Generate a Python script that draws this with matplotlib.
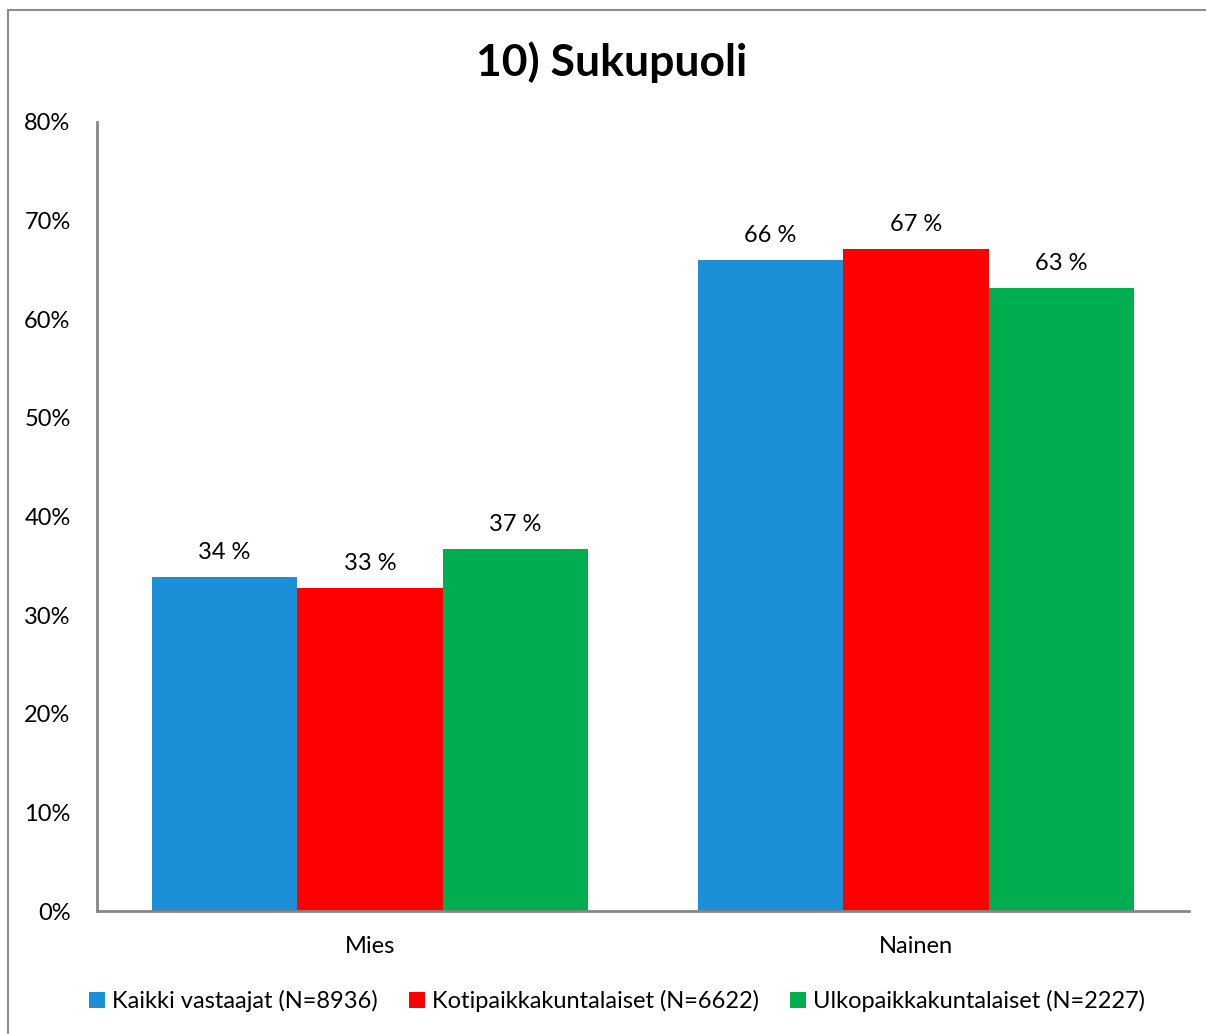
import numpy as np
import matplotlib.pyplot as plt
from matplotlib.patches import Rectangle

plt.rcParams['font.family'] = ['Lato', 'DejaVu Sans']

# Data
categories = ['Mies', 'Nainen']
series_names = ['Kaikki vastaajat (N=8936)', 'Kotipaikkakuntalaiset (N=6622)', 'Ulkopaikkakuntalaiset (N=2227)']
kaikki = [33.9, 66.0]
koti = [32.8, 67.1]
ulko = [36.7, 63.2]
labels = [['34 %', '66 %'], ['33 %', '67 %'], ['37 %', '63 %']]
colors = ['#1C8FD9', '#FF0000', '#00AE50']

fig = plt.figure(figsize=(12.06, 10.34), dpi=100)
ax = fig.add_axes([97 / 1206, 1 - 911 / 1034, 1092 / 1206, 789 / 1034])

# Outer chart frame (right/bottom edges fall outside the image)
fig.patches.append(Rectangle((8 / 1206, -0.01), 1.0, 1 - 10 / 1034 + 0.01,
                             transform=fig.transFigure, fill=False,
                             edgecolor='#8C8C8C', linewidth=1.5))

x = np.arange(len(categories))
w = 0.8 / 3
for i, (vals, name) in enumerate(zip([kaikki, koti, ulko], series_names)):
    pos = x + (i - 1) * w
    ax.bar(pos, vals, width=w, color=colors[i], label=name)
    for p, v, t in zip(pos, vals, labels[i]):
        ax.text(p, v + 1.4, t, ha='center', va='bottom', fontsize=17)

ax.set_xlim(-0.5, 1.5)
ax.set_ylim(0, 80)
ax.set_yticks(range(0, 81, 10))
ax.set_yticklabels([f'{t}%' for t in range(0, 81, 10)], fontsize=17)
ax.set_xticks(x)
ax.set_xticklabels(categories, fontsize=17)
ax.tick_params(axis='both', length=0)
ax.tick_params(axis='y', pad=19)
ax.tick_params(axis='x', pad=18)

for s in ['top', 'right']:
    ax.spines[s].set_visible(False)
for s in ['left', 'bottom']:
    ax.spines[s].set_color('#868686')
    ax.spines[s].set_linewidth(2)

fig.text(612 / 1206, 1 - 62 / 1034, '10) Sukupuoli', ha='center', va='center',
         fontsize=32, fontweight='bold')

fig.legend(loc='center', bbox_to_anchor=(617 / 1206, 1 - 1001 / 1034), ncol=3,
           frameon=False, fontsize=17, handlelength=0.7, handleheight=0.7,
           handletextpad=0.3, columnspacing=1.3)

fig.savefig('out.png', dpi=100)
